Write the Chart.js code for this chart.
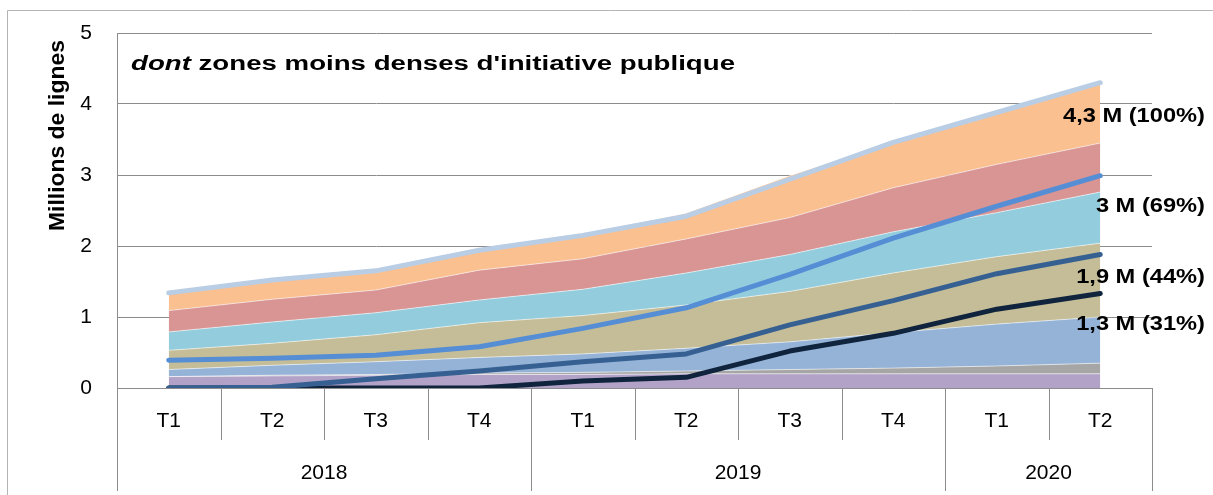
<!DOCTYPE html>
<html>
<head>
<meta charset="utf-8">
<script src="https://cdn.jsdelivr.net/npm/chart.js@4.4.1/dist/chart.umd.min.js"></script>
<style>
  html, body { margin: 0; padding: 0; background: #fff; }
  #wrap { width: 1213px; height: 495px; position: relative; }
</style>
</head>
<body>
<div id="wrap"><canvas id="chart" width="1213" height="495"></canvas></div>
<script>
// categories
const quarters = ['T1', 'T2', 'T3', 'T4', 'T1', 'T2', 'T3', 'T4', 'T1', 'T2'];
const years = ['2018', '2019', '2020'];
const yearSpans = [[0, 3], [4, 7], [8, 9]];

// stacked zones, millions de lignes (bottom to top)
const zonePurple = [0.16, 0.17, 0.18, 0.19, 0.19, 0.20, 0.20, 0.20, 0.20, 0.20];
const zoneGray   = [0.00, 0.01, 0.01, 0.02, 0.03, 0.04, 0.06, 0.08, 0.11, 0.15];
const zoneBlue   = [0.10, 0.14, 0.18, 0.22, 0.26, 0.32, 0.39, 0.50, 0.59, 0.65];
const zoneTan    = [0.27, 0.31, 0.38, 0.49, 0.54, 0.61, 0.71, 0.84, 0.95, 1.04];
const zoneCyan   = [0.26, 0.30, 0.31, 0.32, 0.37, 0.45, 0.52, 0.58, 0.62, 0.72];
const zoneRed    = [0.30, 0.32, 0.32, 0.42, 0.43, 0.48, 0.52, 0.62, 0.68, 0.69];
const zoneOrange = [0.25, 0.27, 0.27, 0.28, 0.33, 0.36, 0.59, 0.64, 0.73, 0.85];

// lines (not stacked)
const totalLine = [1.34, 1.52, 1.65, 1.94, 2.15, 2.42, 2.94, 3.46, 3.88, 4.30];
const line69    = [0.39, 0.42, 0.46, 0.58, 0.84, 1.13, 1.60, 2.11, 2.56, 2.99];
const line44    = [0.00, 0.01, 0.13, 0.24, 0.37, 0.48, 0.89, 1.23, 1.61, 1.88];
const line31    = [0.00, 0.00, 0.00, 0.00, 0.10, 0.15, 0.52, 0.77, 1.11, 1.33];

// end-of-series labels
const endLabels = ['4,3 M (100%)', '3 M (69%)', '1,9 M (44%)', '1,3 M (31%)'];

const FONT = "'Liberation Sans', Arial, sans-serif";
const GRID = '#8c8c8c';
Chart.defaults.font.family = FONT;

function area(data, color, first) {
    return {
        type: 'line',
        data: data,
        stack: 'zones',
        backgroundColor: color,
        borderColor: 'rgba(255,255,255,0.55)',
        borderWidth: 1,
        fill: first ? 'origin' : '-1',
        pointRadius: 0,
        tension: 0,
        order: 2
    };
}

function line(data, color, id) {
    return {
        type: 'line',
        data: data,
        stack: id,
        borderColor: color,
        backgroundColor: color,
        borderWidth: 5,
        borderCapStyle: 'round',
        borderJoinStyle: 'round',
        fill: false,
        pointRadius: 0,
        tension: 0,
        order: 1
    };
}

// fits a font size so the text spans the target width
function fitSize(ctx, text, style, target) {
    ctx.font = style + ' 100px ' + FONT;
    return 100 * target / ctx.measureText(text).width;
}

const decorPlugin = {
    id: 'decor',
    afterDraw(chart) {
        const ctx = chart.ctx;
        const xs = chart.scales.x;
        const ys = chart.scales.y;
        const area = chart.chartArea;
        const w = (area.right - area.left) / quarters.length;
        ctx.save();

        // outer frame
        ctx.strokeStyle = '#b4b4b4';
        ctx.lineWidth = 1;
        ctx.beginPath();
        ctx.moveTo(7.5, 495);
        ctx.lineTo(7.5, 10.5);
        ctx.lineTo(1213, 10.5);
        ctx.stroke();

        // x axis: quarter separators and year separators
        ctx.strokeStyle = GRID;
        ctx.beginPath();
        for (let i = 0; i <= quarters.length; i++) {
            const x = Math.round(area.left + i * w) + 0.5;
            const isYear = i === 0 || i === quarters.length || yearSpans.some(s => s[0] === i);
            ctx.moveTo(x, area.bottom);
            ctx.lineTo(x, isYear ? 491 : 440);
        }
        ctx.stroke();

        ctx.fillStyle = '#000';
        ctx.textAlign = 'center';
        ctx.textBaseline = 'middle';
        ctx.font = '21px ' + FONT;
        quarters.forEach((q, i) => ctx.fillText(q, xs.getPixelForValue(i), 421));
        years.forEach((y, k) => {
            const a = area.left + yearSpans[k][0] * w;
            const b = area.left + (yearSpans[k][1] + 1) * w;
            ctx.fillText(y, (a + b) / 2, 473);
        });

        // title inside the plot (text is a bit wider than the font, like the original)
        const t1 = 'dont', t2 = " zones moins denses d'initiative publique";
        ctx.font = 'italic bold 20px ' + FONT;
        const w1 = ctx.measureText(t1).width;
        ctx.font = 'bold 20px ' + FONT;
        const w2 = ctx.measureText(t2).width;
        const sx = 604 / (w1 + w2);
        ctx.save();
        ctx.translate(131, 70);
        ctx.scale(sx, 1);
        ctx.textAlign = 'left';
        ctx.textBaseline = 'alphabetic';
        ctx.font = 'italic bold 20px ' + FONT;
        ctx.fillText(t1, 0, 0);
        ctx.font = 'bold 20px ' + FONT;
        ctx.fillText(t2, w1, 0);
        ctx.restore();

        // y axis title
        const yt = 'Millions de lignes';
        const ysz = fitSize(ctx, yt, 'bold', 191);
        ctx.save();
        ctx.translate(64, 231);
        ctx.rotate(-Math.PI / 2);
        ctx.textAlign = 'left';
        ctx.textBaseline = 'alphabetic';
        ctx.font = 'bold ' + ysz + 'px ' + FONT;
        ctx.fillText(yt, 0, 0);
        ctx.restore();

        // end labels, right aligned
        const labelAt = [3.82, 2.55, 1.55, 0.89];
        ctx.font = 'bold 20px ' + FONT;
        const lsx = 142 / ctx.measureText(endLabels[0]).width;
        ctx.textAlign = 'right';
        ctx.textBaseline = 'middle';
        endLabels.forEach((t, i) => {
            ctx.save();
            ctx.translate(1205, ys.getPixelForValue(labelAt[i]));
            ctx.scale(lsx, 1);
            ctx.fillText(t, 0, 0);
            ctx.restore();
        });

        ctx.restore();
    }
};

new Chart(document.getElementById('chart'), {
    type: 'line',
    data: {
        labels: quarters,
        datasets: [
            area(zonePurple, '#b3a2c7', true),
            area(zoneGray, '#a6a6a6'),
            area(zoneBlue, '#95b3d7'),
            area(zoneTan, '#c4bd97'),
            area(zoneCyan, '#93cddd'),
            area(zoneRed, '#d99594'),
            area(zoneOrange, '#fac090'),
            line(totalLine, '#b9cde5', 'l100'),
            line(line69, '#558ed5', 'l69'),
            line(line44, '#376092', 'l44'),
            line(line31, '#10243e', 'l31')
        ]
    },
    options: {
        responsive: false,
        animation: false,
        devicePixelRatio: 1,
        layout: { padding: { top: 33, right: 61, left: 0, bottom: 0 } },
        plugins: { legend: { display: false }, tooltip: { enabled: false } },
        scales: {
            x: {
                offset: true,
                ticks: { display: false },
                grid: { display: false },
                border: { display: true, color: GRID },
                afterFit: s => { s.height = 107; }
            },
            y: {
                stacked: true,
                min: 0,
                max: 5,
                ticks: { stepSize: 1, color: '#000', font: { size: 21 }, padding: 25 },
                grid: { color: GRID, drawTicks: false },
                border: { color: GRID },
                afterFit: s => { s.width = 117; s.paddingTop = 0; s.paddingBottom = 0; }
            }
        }
    },
    plugins: [decorPlugin]
});
</script>
</body>
</html>
